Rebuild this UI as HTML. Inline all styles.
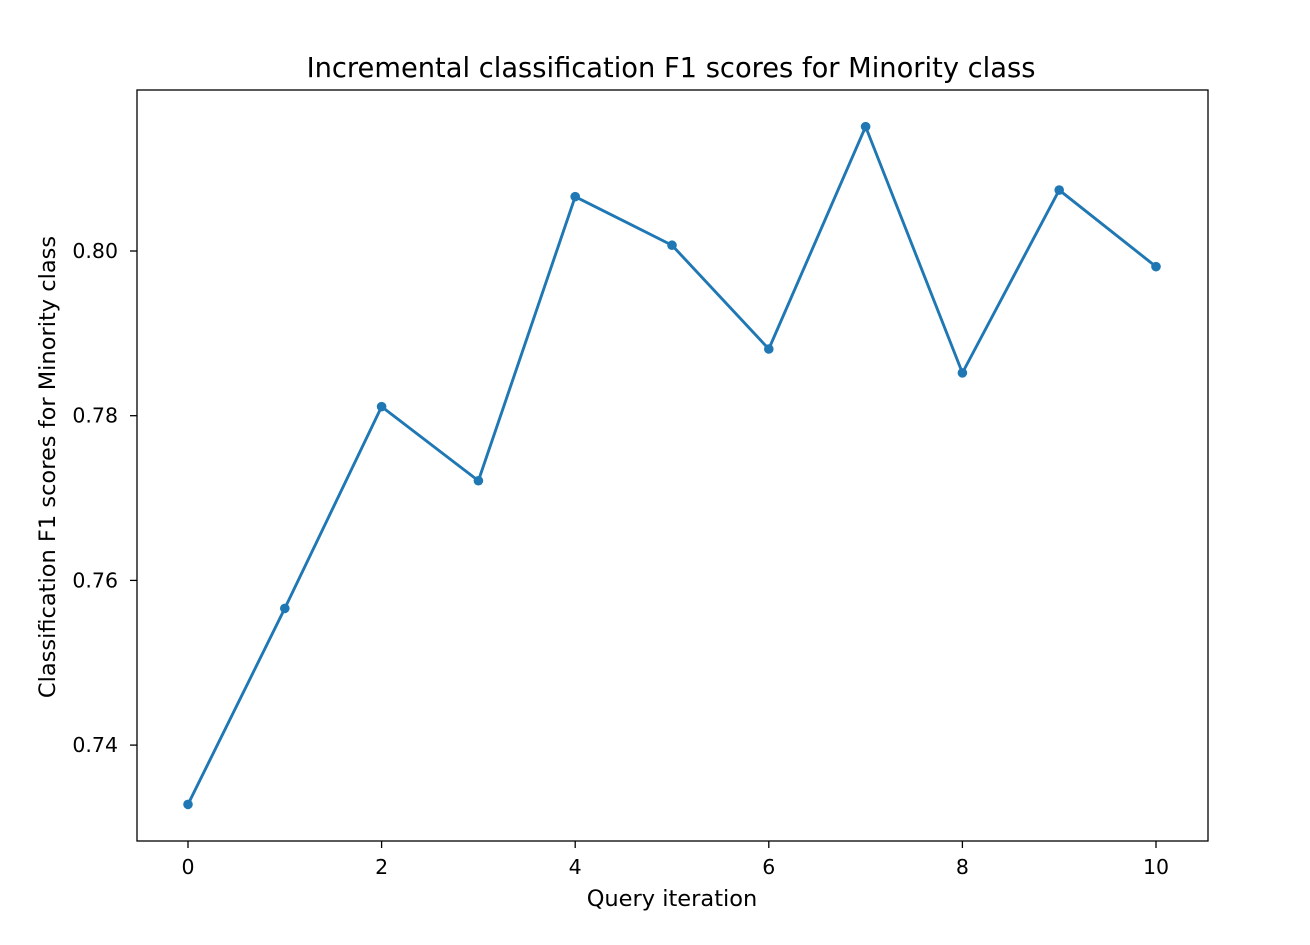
<!DOCTYPE html>
<html><head><meta charset="utf-8"><style>
body{margin:0;background:#fff;}
svg{font-family:"DejaVu Sans","Liberation Sans",sans-serif;}
</style></head><body>
<svg width="1310" height="940">
<rect x="0" y="0" width="1310" height="940" fill="#fff"/>
<g id="plot"></g>
<text x="671" y="77" text-anchor="middle" font-size="27.3" fill="#000">Incremental classification F1 scores for Minority class</text>
<text x="672" y="906" text-anchor="middle" font-size="22.5" fill="#000">Query iteration</text>
<text transform="translate(55,467) rotate(-90)" text-anchor="middle" font-size="22.5" fill="#000">Classification F1 scores for Minority class</text>
</svg>
<script>
const iterations=[0,1,2,3,4,5,6,7,8,9,10];
const f1Scores=[0.7328,0.7566,0.7811,0.7721,0.8066,0.8007,0.7881,0.8151,0.7852,0.8074,0.7981];
const xTicks=[0,2,4,6,8,10];
const yTicks=[0.74,0.76,0.78,0.80];
const L=137,R=1208,T=90,B=841;
const x=v=>188+(v-0)*96.8;
const y=v=>251-(v-0.80)*8235;
const NS="http://www.w3.org/2000/svg";
const g=document.getElementById('plot');
function mk(t,a){const e=document.createElementNS(NS,t);for(const k in a)e.setAttribute(k,a[k]);g.appendChild(e);return e;}
const frame=mk('rect',{x:L,y:T,width:R-L,height:B-T,fill:'none',stroke:'#000','stroke-width':1.3});


xTicks.forEach(v=>{
 const l=mk('line',{x1:x(v),x2:x(v),y1:B,y2:B+7,stroke:'#000','stroke-width':1.3});
 
 
 const t=mk('text',{x:x(v),y:B+33,'text-anchor':'middle','font-size':20.5,fill:'#000'});
 t.textContent=v;
 
 
});
yTicks.forEach(v=>{
 const l=mk('line',{x1:L-7,x2:L,y1:y(v),y2:y(v),stroke:'#000','stroke-width':1.3});
 
 
 const t=mk('text',{x:L-19,y:y(v)+7,'text-anchor':'end','font-size':20.5,fill:'#000'});
 t.textContent=v.toFixed(2);
 
 
});
const pts=iterations.map((v,i)=>x(v)+','+y(f1Scores[i])).join(' ');
const line=mk('polyline',{points:pts,fill:'none',stroke:'#1f77b4','stroke-width':2.9,'stroke-linejoin':'round'});


iterations.forEach((v,i)=>{
 const c=mk('circle',{cx:x(v),cy:y(f1Scores[i]),r:4.8,fill:'#1f77b4'});
 
 
});
</script>
</body></html>
